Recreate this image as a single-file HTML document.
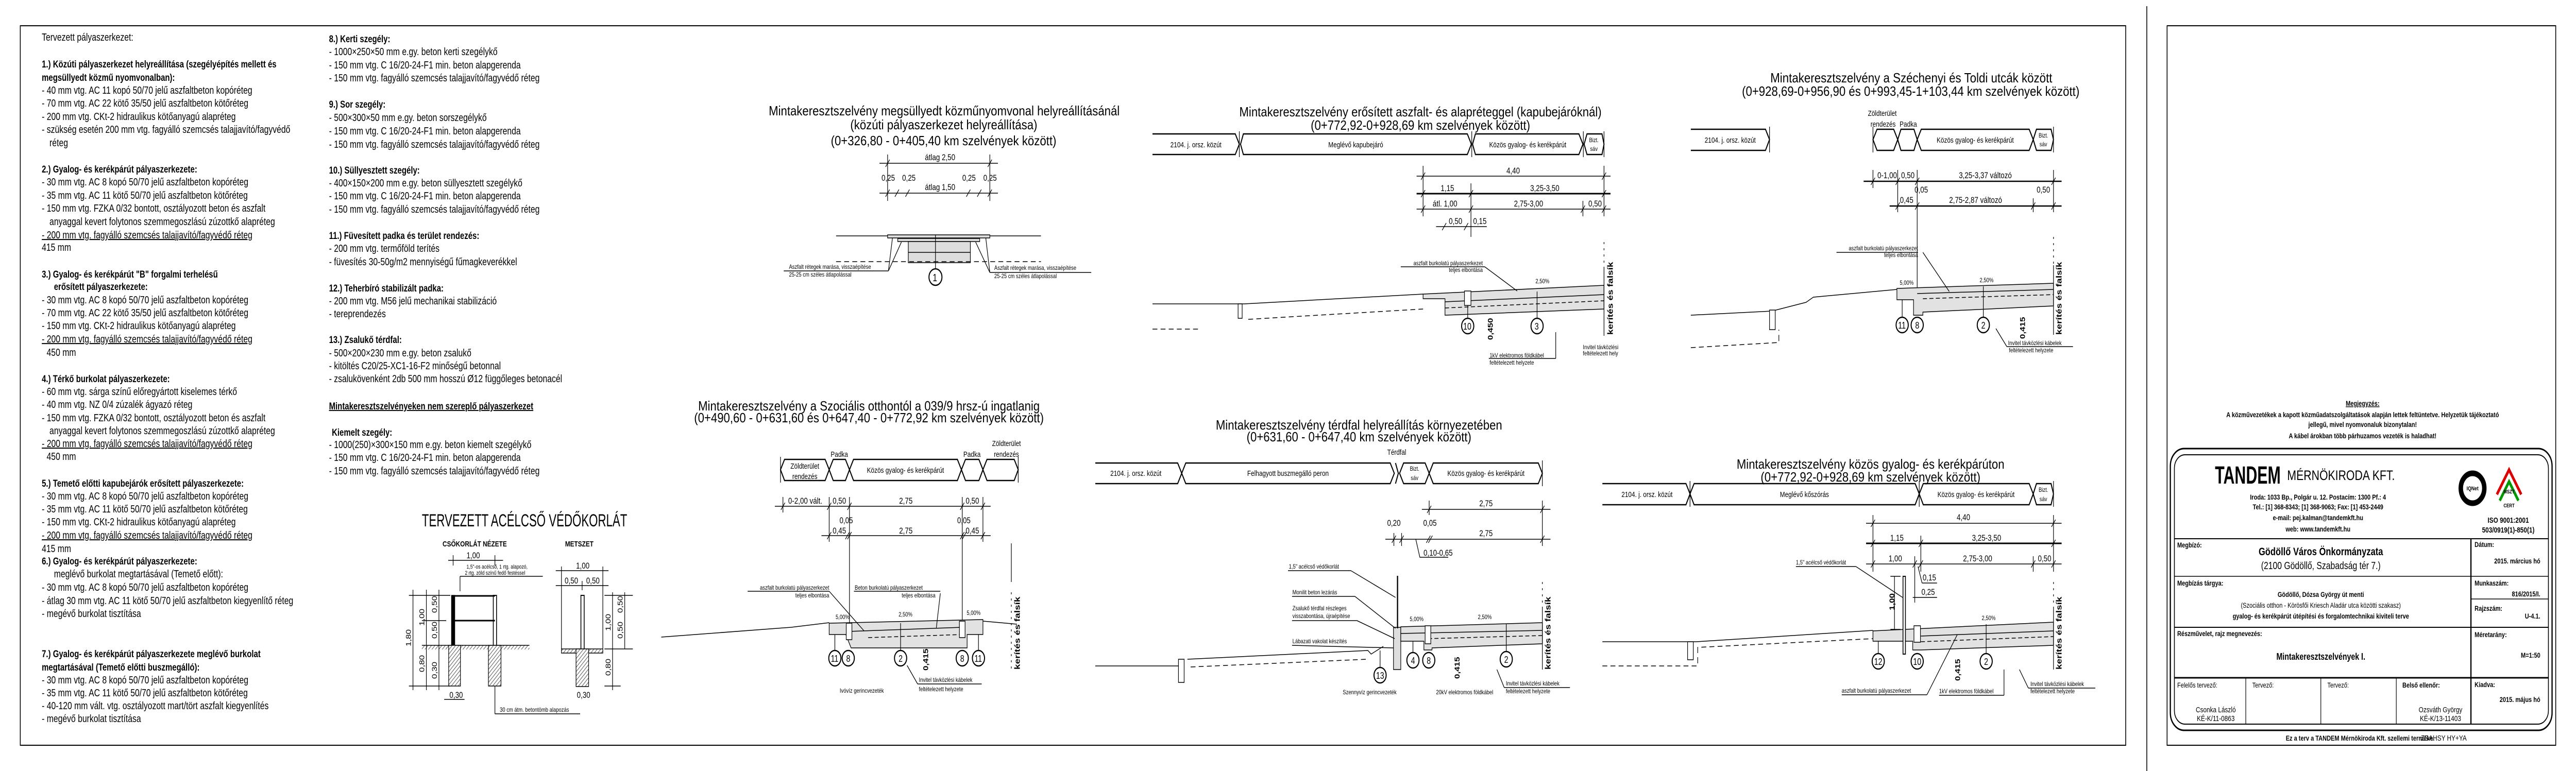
<!DOCTYPE html>
<html><head><meta charset="utf-8"><style>
html,body{margin:0;padding:0;background:#fff;width:100%;height:100%;overflow:hidden}
svg{display:block;width:100vw;height:100vh;position:absolute;left:0;top:0}
text{font-family:"Liberation Sans",Arial,sans-serif;fill:#000}
.t{font-size:20px}
.b{font-size:19px;font-weight:bold}
.ti{font-size:26px}
.bd{font-size:15px}
.dm{font-size:17px}
.nt{font-size:12px}
.cr{font-size:20px}
.kf{font-size:19px;font-weight:bold}
.tb{font-size:14px;font-weight:bold}
</style></head><body>
<svg viewBox="0 0 6350 1497" preserveAspectRatio="none" xmlns="http://www.w3.org/2000/svg">
<defs>
<pattern id="h" width="6" height="6" patternUnits="userSpaceOnUse" patternTransform="rotate(45)"><rect width="6" height="6" fill="#fff"/><line x1="0" y1="0" x2="0" y2="6" stroke="#000" stroke-width="1.5"/></pattern>
</defs>
<rect width="6350" height="1497" fill="#fff"/>
<rect x="50" y="50" width="5190" height="1397" fill="none" stroke="#000" stroke-width="2"/>
<line x1="5292" y1="12" x2="5292" y2="1497" stroke="#000" stroke-width="2"/>
<rect x="5342" y="50" width="958" height="1397" fill="none" stroke="#000" stroke-width="2"/>

<g class="t">
<text x="103" y="79">Tervezett pályaszerkezet:</text>
<text class="b" x="103" y="131">1.) Közúti pályaszerkezet helyreállítása (szegélyépítés mellett és</text>
<text class="b" x="103" y="157">megsüllyedt közmű nyomvonalban):</text>
<text x="103" y="182">-  40 mm vtg. AC 11 kopó 50/70 jelű aszfaltbeton kopóréteg</text>
<text x="103" y="207">-  70 mm vtg. AC 22 kötő 35/50 jelű aszfaltbeton kötőréteg</text>
<text x="103" y="233">- 200 mm vtg. CKt-2 hidraulikus kötőanyagú alapréteg</text>
<text x="103" y="258">- szükség esetén 200 mm vtg. fagyálló szemcsés talajjavító/fagyvédő</text>
<text x="122" y="284">réteg</text>
<text class="b" x="103" y="335">2.) Gyalog- és kerékpárút pályaszerkezete:</text>
<text x="103" y="360">-  30 mm vtg. AC 8 kopó 50/70 jelű aszfaltbeton kopóréteg</text>
<text x="103" y="386">-  35 mm vtg. AC 11 kötő 50/70 jelű aszfaltbeton kötőréteg</text>
<text x="103" y="411">- 150 mm vtg. FZKA 0/32 bontott, osztályozott beton és aszfalt</text>
<text x="122" y="437">anyaggal kevert folytonos szemmegoszlású zúzottkő alapréteg</text>
<text x="103" y="463" text-decoration="underline">- 200 mm vtg. fagyálló szemcsés talajjavító/fagyvédő réteg</text>
<text x="103" y="487">415 mm</text>
<text class="b" x="103" y="539">3.) Gyalog- és kerékpárút "B" forgalmi terhelésű</text>
<text class="b" x="133" y="563">erősített pályaszerkezete:</text>
<text x="103" y="589">-  30 mm vtg. AC 8 kopó 50/70 jelű aszfaltbeton kopóréteg</text>
<text x="103" y="614">-  70 mm vtg. AC 22 kötő 35/50 jelű aszfaltbeton kötőréteg</text>
<text x="103" y="639">-  150 mm vtg. CKt-2 hidraulikus kötőanyagú alapréteg</text>
<text x="103" y="665" text-decoration="underline">- 200 mm vtg. fagyálló szemcsés talajjavító/fagyvédő réteg</text>
<text x="115" y="691">450 mm</text>
<text class="b" x="103" y="742">4.) Térkő burkolat pályaszerkezete:</text>
<text x="103" y="767">-  60 mm vtg. sárga színű előregyártott kiselemes térkő</text>
<text x="103" y="792">-  40 mm vtg. NZ 0/4 zúzalék ágyazó réteg</text>
<text x="103" y="818">-  150 mm vtg. FZKA 0/32 bontott, osztályozott beton és aszfalt</text>
<text x="122" y="843">anyaggal kevert folytonos szemmegoszlású zúzottkő alapréteg</text>
<text x="103" y="868" text-decoration="underline">- 200 mm vtg. fagyálló szemcsés talajjavító/fagyvédő réteg</text>
<text x="115" y="893">450 mm</text>
<text class="b" x="103" y="945">5.) Temető előtti kapubejárók erősített pályaszerkezete:</text>
<text x="103" y="970">-  30 mm vtg. AC 8 kopó 50/70 jelű aszfaltbeton kopóréteg</text>
<text x="103" y="995">-  35 mm vtg. AC 11 kötő 50/70 jelű aszfaltbeton kötőréteg</text>
<text x="103" y="1020">- 150 mm vtg. CKt-2 hidraulikus kötőanyagú alapréteg</text>
<text x="103" y="1046" text-decoration="underline">- 200 mm vtg. fagyálló szemcsés talajjavító/fagyvédő réteg</text>
<text x="103" y="1072">415 mm</text>
<text class="b" x="103" y="1096">6.) Gyalog- és kerékpárút pályaszerkezete:</text>
<text x="133" y="1121">meglévő burkolat megtartásával (Temető előtt):</text>
<text x="103" y="1147">-   30 mm vtg. AC 8 kopó 50/70 jelű aszfaltbeton kopóréteg</text>
<text x="103" y="1173">-   átlag 30 mm vtg. AC 11 kötő 50/70 jelű aszfaltbeton kiegyenlítő réteg</text>
<text x="103" y="1198">-   megévő burkolat tisztítása</text>
<text class="b" x="103" y="1276">7.) Gyalog- és kerékpárút pályaszerkezete meglévő burkolat</text>
<text class="b" x="103" y="1302">megtartásával (Temető előtti buszmegálló):</text>
<text x="103" y="1327">-   30 mm vtg. AC 8 kopó 50/70 jelű aszfaltbeton kopóréteg</text>
<text x="103" y="1352">-   35 mm vtg. AC 11 kötő 50/70 jelű aszfaltbeton kötőréteg</text>
<text x="103" y="1377">-   40-120 mm vált. vtg. osztályozott mart/tört aszfalt kiegyenlítés</text>
<text x="103" y="1402">-   megévő burkolat tisztítása</text>
</g>

<g class="t">
<text class="b" x="811" y="82">8.) Kerti szegély:</text>
<text x="811" y="107">- 1000×250×50 mm e.gy. beton kerti szegélykő</text>
<text x="811" y="133">- 150 mm vtg. C 16/20-24-F1 min. beton alapgerenda</text>
<text x="811" y="158">- 150 mm vtg. fagyálló szemcsés talajjavító/fagyvédő réteg</text>
<text class="b" x="811" y="209">9.) Sor szegély:</text>
<text x="811" y="235">- 500×300×50 mm e.gy. beton sorszegélykő</text>
<text x="811" y="261">- 150 mm vtg. C 16/20-24-F1 min. beton alapgerenda</text>
<text x="811" y="287">- 150 mm vtg. fagyálló szemcsés talajjavító/fagyvédő réteg</text>
<text class="b" x="811" y="337">10.) Süllyesztett szegély:</text>
<text x="811" y="362">- 400×150×200 mm e.gy. beton süllyesztett szegélykő</text>
<text x="811" y="387">- 150 mm vtg. C 16/20-24-F1 min. beton alapgerenda</text>
<text x="811" y="413">- 150 mm vtg. fagyálló szemcsés talajjavító/fagyvédő réteg</text>
<text class="b" x="811" y="464">11.) Füvesített padka és terület rendezés:</text>
<text x="811" y="489">- 200 mm vtg. termőföld terítés</text>
<text x="811" y="515">- füvesítés 30-50g/m2 mennyiségű fűmagkeverékkel</text>
<text class="b" x="811" y="566">12.) Teherbíró stabilizált padka:</text>
<text x="811" y="591">- 200 mm vtg. M56 jelű mechanikai stabilizáció</text>
<text x="811" y="616">- tereprendezés</text>
<text class="b" x="811" y="666">13.) Zsalukő térdfal:</text>
<text x="811" y="692">- 500×200×230 mm e.gy. beton zsalukő</text>
<text x="811" y="717">- kitöltés C20/25-XC1-16-F2 minőségű betonnal</text>
<text x="811" y="742">- zsalukövenként 2db 500 mm hosszú Ø12 függőleges betonacél</text>
<text class="b" x="811" y="795" text-decoration="underline">Mintakeresztszelvényeken nem szereplő pályaszerkezet</text>
<text class="b" x="818" y="846">Kiemelt szegély:</text>
<text x="811" y="870">- 1000(250)×300×150 mm e.gy. beton kiemelt szegélykő</text>
<text x="811" y="895">- 150 mm vtg. C 16/20-24-F1 min. beton alapgerenda</text>
<text x="811" y="921">- 150 mm vtg. fagyálló szemcsés talajjavító/fagyvédő réteg</text>
</g>

<g stroke="#000" fill="none" stroke-width="1.5">
<text x="1040" y="1022" style="font-size:34px" textLength="506" lengthAdjust="spacingAndGlyphs" stroke="none">TERVEZETT ACÉLCSŐ VÉDŐKORLÁT</text>
<text x="1091" y="1061" style="font-size:15px;font-weight:bold" stroke="none">CSŐKORLÁT NÉZETE</text>
<text x="1393" y="1061" style="font-size:15px;font-weight:bold" stroke="none">METSZET</text>
<line x1="1105" y1="1088" x2="1240" y2="1088"/><line x1="1117" y1="1078" x2="1117" y2="1098"/><line x1="1220" y1="1078" x2="1220" y2="1098"/>
<text x="1150" y="1084" class="dm" stroke="none">1,00</text>
<text x="1150" y="1104" style="font-size:11px" stroke="none">1,5"-os acélcső, 1 rtg. alapozó,</text>
<text x="1146" y="1116" style="font-size:11px" stroke="none">2 rtg. zöld színű fedő festéssel</text>
<line x1="1134" y1="1119" x2="1338" y2="1119"/><line x1="1134" y1="1119" x2="1134" y2="1148"/>
<rect x="1113" y="1156" width="8" height="145" fill="#000"/>
<rect x="1216" y="1156" width="8" height="145" fill="#fff" stroke-width="2"/>
<line x1="1117" y1="1157" x2="1220" y2="1157" stroke-width="3"/>
<line x1="1117" y1="1205" x2="1220" y2="1205" stroke-width="3"/>
<rect x="1040" y="1253" width="265" height="8" fill="url(#h)" stroke="none"/>
<line x1="1040" y1="1253" x2="1305" y2="1253"/>
<rect x="1106" y="1253" width="29" height="79" fill="url(#h)"/>
<rect x="1204" y="1253" width="31" height="79" fill="url(#h)"/>
<line x1="1018" y1="1145" x2="1018" y2="1340"/><line x1="1051" y1="1145" x2="1051" y2="1340"/><line x1="1082" y1="1145" x2="1082" y2="1340"/>
<line x1="1008" y1="1156" x2="1110" y2="1156"/><line x1="1040" y1="1205" x2="1100" y2="1205"/><line x1="1008" y1="1332" x2="1110" y2="1332"/>
<text transform="translate(1013,1255) rotate(-90)" class="dm" stroke="none">1,80</text>
<text transform="translate(1046,1215) rotate(-90)" class="dm" stroke="none">1,00</text>
<text transform="translate(1077,1190) rotate(-90)" class="dm" stroke="none">0,50</text>
<text transform="translate(1077,1240) rotate(-90)" class="dm" stroke="none">0,50</text>
<text transform="translate(1046,1305) rotate(-90)" class="dm" stroke="none">0,80</text>
<text transform="translate(1077,1318) rotate(-90)" class="dm" stroke="none">0,30</text>
<line x1="1095" y1="1358" x2="1145" y2="1358"/><text x="1108" y="1355" class="dm" stroke="none">0,30</text>
<line x1="1220" y1="1332" x2="1220" y2="1386"/><line x1="1220" y1="1386" x2="1430" y2="1386"/>
<text x="1232" y="1382" style="font-size:12px" stroke="none">30 cm átm. betontömb alapozás</text>
<line x1="1384" y1="1100" x2="1384" y2="1260"/><line x1="1486" y1="1100" x2="1486" y2="1260"/>
<line x1="1370" y1="1108" x2="1500" y2="1108"/><line x1="1370" y1="1137" x2="1500" y2="1137"/><line x1="1435" y1="1128" x2="1435" y2="1146"/>
<text x="1420" y="1104" class="dm" stroke="none">1,00</text>
<text x="1392" y="1133" class="dm" stroke="none">0,50</text><text x="1445" y="1133" class="dm" stroke="none">0,50</text>
<rect x="1432" y="1156" width="8" height="145" fill="#fff" stroke-width="2"/>
<rect x="1384" y="1260" width="102" height="8" fill="url(#h)"/>
<rect x="1420" y="1260" width="31" height="73" fill="url(#h)"/>
<line x1="1510" y1="1150" x2="1510" y2="1340"/><line x1="1540" y1="1150" x2="1540" y2="1260"/>
<line x1="1490" y1="1156" x2="1560" y2="1156"/><line x1="1490" y1="1260" x2="1560" y2="1260"/><line x1="1490" y1="1332" x2="1530" y2="1332"/>
<text transform="translate(1505,1225) rotate(-90)" class="dm" stroke="none">1,00</text>
<text transform="translate(1535,1190) rotate(-90)" class="dm" stroke="none">0,50</text>
<text transform="translate(1535,1240) rotate(-90)" class="dm" stroke="none">0,50</text>
<text transform="translate(1505,1312) rotate(-90)" class="dm" stroke="none">0,80</text>
<text x="1422" y="1355" class="dm" stroke="none">0,30</text>
</g>

<g stroke="#000" fill="none" stroke-width="1.5">
<g stroke="none">
<text x="1895" y="224" class="ti" textLength="865" lengthAdjust="spacingAndGlyphs">Mintakeresztszelvény megsüllyedt közműnyomvonal helyreállításánál</text>
<text x="2096" y="251" class="ti" textLength="461" lengthAdjust="spacingAndGlyphs">(közúti pályaszerkezet helyreállítása)</text>
<text x="2048" y="282" class="ti" textLength="556" lengthAdjust="spacingAndGlyphs">(0+326,80 - 0+405,40 km szelvények között)</text>
<text x="2280" y="311" class="dm">átlag 2,50</text>
<text x="2173" y="351" class="dm">0,25</text><text x="2224" y="351" class="dm">0,25</text>
<text x="2372" y="351" class="dm">0,25</text><text x="2424" y="351" class="dm">0,25</text>
<text x="2280" y="369" class="dm">átlag 1,50</text>
</g>
<line x1="2168" y1="317" x2="2460" y2="317"/><line x1="2168" y1="375" x2="2460" y2="375"/>
<path d="M2183 324L2193 310M2435 324L2445 310M2183 382L2193 368M2206 382L2216 368M2232 382L2242 368M2382 382L2392 368M2409 382L2419 368M2435 382L2445 368"/>
<line x1="2188" y1="300" x2="2188" y2="390"/><line x1="2440" y1="300" x2="2440" y2="390"/>
<line x1="2061" y1="458" x2="2566" y2="458"/>
<rect x="2188" y="456" width="252" height="6" fill="#ddd"/>
<rect x="2213" y="463" width="202" height="6" fill="#ddd"/>
<rect x="2239" y="469" width="153" height="41" fill="#ddd"/>
<line x1="2239" y1="490" x2="2392" y2="490"/>
<line x1="2061" y1="508" x2="2566" y2="508" stroke-dasharray="12,8"/>
<line x1="2306" y1="456" x2="2306" y2="522"/>
<circle cx="2306" cy="538" r="16" fill="#fff" stroke-width="2.5"/>
<text x="2299" y="546" class="cr" stroke="none">1</text>
<text x="1945" y="522" class="nt" stroke="none">Aszfalt rétegek marása, visszaépítése</text>
<text x="1945" y="537" class="nt" stroke="none">25-25 cm széles átlapolással</text>
<line x1="1932" y1="526" x2="2190" y2="526"/><path d="M2190 526L2200 462M2190 526L2222 470"/>
<text x="2451" y="524" class="nt" stroke="none">Aszfalt rétegek marása, visszaépítése</text>
<text x="2451" y="540" class="nt" stroke="none">25-25 cm széles átlapolással</text>
<line x1="2440" y1="529" x2="2690" y2="529"/><path d="M2440 529L2430 462M2440 529L2405 470"/>
</g>

<g stroke="#000" fill="none" stroke-width="1.5">
<g stroke="none">
<text x="3055" y="226" class="ti" textLength="893" lengthAdjust="spacingAndGlyphs">Mintakeresztszelvény erősített aszfalt- és alapréteggel (kapubejáróknál)</text>
<text x="3231" y="252" class="ti" textLength="541" lengthAdjust="spacingAndGlyphs">(0+772,92-0+928,69 km szelvények között)</text>
<text x="2948" y="286" class="bd" text-anchor="middle">2104. j. orsz. közút</text>
<text x="3342" y="286" class="bd" text-anchor="middle">Meglévő kapubejáró</text>
<text x="3766" y="286" class="bd" text-anchor="middle">Közös gyalog- és kerékpárút</text>
<text x="3929" y="276" class="nt" text-anchor="middle">Bizt.</text><text x="3929" y="293" class="nt" text-anchor="middle">sáv</text>
<text x="3730" y="337" class="dm" text-anchor="middle">4,40</text>
<text x="3568" y="371" class="dm" text-anchor="middle">1,15</text><text x="3808" y="371" class="dm" text-anchor="middle">3,25-3,50</text>
<text x="3562" y="401" class="dm" text-anchor="middle">átl. 1,00</text><text x="3768" y="401" class="dm" text-anchor="middle">2,75-3,00</text><text x="3932" y="401" class="dm" text-anchor="middle">0,50</text>
<text x="3588" y="435" class="dm" text-anchor="middle">0,50</text><text x="3648" y="435" class="dm" text-anchor="middle">0,15</text>
<text x="3785" y="550" class="nt">2,50%</text>
<text x="3655" y="515" class="nt" text-anchor="end">aszfalt burkolatú pályaszerkezet</text>
<text x="3655" y="528" class="nt" text-anchor="end">teljes elbontása</text>
<text x="3672" y="694" class="nt">1kV elektromos földkábel</text><text x="3672" y="708" class="nt">feltételezett helyzete</text>
<text x="3902" y="678" class="nt">Invitel távközlési</text><text x="3902" y="690" class="nt">feltételezett hely</text>
<text transform="translate(3680,660) rotate(-90)" class="dm" style="font-weight:bold">0,450</text>
<text transform="translate(3976,650) rotate(-90)" class="kf">kerítés és falsík</text>
</g>
<path d="M2841 260H3045L3055 280L3045 300H2841M3065 260H3617L3627 280L3617 300H3065L3058 280ZM3637 260H3892L3902 280L3892 300H3637L3630 280ZM3912 260H3949L3954 280L3949 300H3912L3905 280Z" stroke-width="2.5"/>
<line x1="3055" y1="255" x2="3055" y2="305"/><line x1="3628" y1="255" x2="3628" y2="305"/><line x1="3903" y1="255" x2="3903" y2="305"/><line x1="3954" y1="255" x2="3954" y2="305"/>
<line x1="3492" y1="342" x2="3970" y2="342"/><line x1="3492" y1="376" x2="3970" y2="376" stroke-width="3"/><line x1="3492" y1="406" x2="3970" y2="406"/><line x1="3540" y1="440" x2="3665" y2="440"/>
<line x1="3508" y1="322" x2="3508" y2="420"/><line x1="3626" y1="356" x2="3626" y2="460"/><line x1="3902" y1="390" x2="3902" y2="420"/><line x1="3954" y1="322" x2="3954" y2="420"/>
<path d="M3503 349L3513 335M3949 349L3959 335M3503 383L3513 369M3621 383L3631 369M3949 383L3959 369M3503 413L3513 399M3621 413L3631 399M3897 413L3907 399M3949 413L3959 399M3555 447L3565 433M3609 447L3619 433"/>
<path d="M2841 590H3068L3508 571"/>
<rect x="3052" y="590" width="10" height="28" fill="#fff"/>
<path d="M2841 639H2960M3077 620L3508 600" stroke-dasharray="12,8"/>
<path d="M3508 571L3954 554V600L3562 612V580H3508Z" fill="#e2e2e2"/>
<line x1="3562" y1="586" x2="3954" y2="572"/><line x1="3562" y1="598" x2="3954" y2="584" stroke-dasharray="10,6"/>
<rect x="3610" y="565" width="16" height="28" fill="#fff"/>
<line x1="3618" y1="593" x2="3618" y2="618"/><line x1="3789" y1="566" x2="3789" y2="618"/>
<circle cx="3618" cy="633" r="15" fill="#fff" stroke-width="2.5"/><circle cx="3789" cy="633" r="15" fill="#fff" stroke-width="2.5"/>
<text x="3607" y="640" class="cr" stroke="none" style="font-size:18px">10</text><text x="3783" y="640" class="cr" stroke="none" style="font-size:18px">3</text>
<line x1="3453" y1="518" x2="3660" y2="518"/><line x1="3660" y1="518" x2="3740" y2="565"/>
<line x1="3670" y1="696" x2="3835" y2="696"/><line x1="3835" y1="696" x2="3835" y2="645"/>
<line x1="3954" y1="470" x2="3954" y2="520" stroke-dasharray="4,8"/><line x1="3954" y1="520" x2="3954" y2="652"/>
</g>

<g stroke="#000" fill="none" stroke-width="1.5">
<g stroke="none">
<text x="4364" y="160" class="ti" textLength="695" lengthAdjust="spacingAndGlyphs">Mintakeresztszelvény a Széchenyi és Toldi utcák között</text>
<text x="4294" y="186" class="ti" textLength="832" lengthAdjust="spacingAndGlyphs">(0+928,69-0+956,90 és 0+993,45-1+103,44 km szelvények között)</text>
<text x="4640" y="225" class="bd" text-anchor="middle">Zöldterület</text>
<text x="4642" y="246" class="bd" text-anchor="middle">rendezés</text><text x="4704" y="246" class="bd" text-anchor="middle">Padka</text>
<text x="4265" y="277" class="bd" text-anchor="middle">2104. j. orsz. közút</text>
<text x="4869" y="277" class="bd" text-anchor="middle">Közös gyalog- és kerékpárút</text>
<text x="5037" y="267" class="nt" text-anchor="middle">Bizt.</text><text x="5037" y="284" class="nt" text-anchor="middle">sáv</text>
<text x="4652" y="346" class="dm" text-anchor="middle">0-1,00</text><text x="4703" y="346" class="dm" text-anchor="middle">0,50</text><text x="4894" y="346" class="dm" text-anchor="middle">3,25-3,37 változó</text>
<text x="4736" y="374" class="dm" text-anchor="middle">0,05</text><text x="5037" y="374" class="dm" text-anchor="middle">0,50</text>
<text x="4700" y="394" class="dm" text-anchor="middle">0,45</text><text x="4870" y="394" class="dm" text-anchor="middle">2,75-2,87 változó</text>
<text x="4728" y="486" class="nt" text-anchor="end">aszfalt burkolatú pályaszerkezet</text>
<text x="4728" y="499" class="nt" text-anchor="end">teljes elbontása</text>
<text x="4683" y="553" class="nt">5,00%</text><text x="4880" y="548" class="nt">2,50%</text>
<text x="4950" y="670" class="nt">Invitel távközlési kábelek</text><text x="4952" y="684" class="nt">feltételezett helyzete</text>
<text transform="translate(4992,658) rotate(-90)" class="dm" style="font-weight:bold">0,415</text>
<text transform="translate(5082,650) rotate(-90)" class="kf">kerítés és falsík</text>
</g>
<path d="M4168 251H4352L4362 271L4352 292H4168" stroke-width="2.5"/>
<path d="M4627 251H4668L4678 271L4668 292H4627L4617 271ZM4686 251H4718L4726 271L4718 292H4686L4678 271ZM4736 251H5002L5012 271L5002 292H4736L4726 271ZM5020 251H5056L5062 271L5056 292H5020L5012 271Z" stroke-width="2.5"/>
<line x1="4362" y1="246" x2="4362" y2="296"/><line x1="4617" y1="246" x2="4617" y2="296"/><line x1="5062" y1="246" x2="5062" y2="296"/>
<line x1="4594" y1="352" x2="5082" y2="352" stroke-width="2.5"/><line x1="4658" y1="400" x2="5082" y2="400" stroke-width="2.5"/>
<line x1="4617" y1="330" x2="4617" y2="365"/><line x1="4678" y1="330" x2="4678" y2="412"/><line x1="4726" y1="330" x2="4726" y2="560"/><line x1="5012" y1="385" x2="5012" y2="412"/><line x1="5062" y1="330" x2="5062" y2="412"/>
<path d="M4612 359L4622 345M4673 359L4683 345M4721 359L4731 345M5057 359L5067 345M4673 407L4683 393M4721 407L4731 393M5007 407L5017 393M5057 407L5067 393"/>
<path d="M4168 612L4368 604L4452 587L4470 577L4676 562"/>
<rect x="4362" y="602" width="14" height="38" fill="#fff"/>
<path d="M4168 675L4385 665V640" stroke-dasharray="12,8"/>
<path d="M4676 560L5062 550V594L4740 606V612H4717V582H4676Z" fill="#e2e2e2"/>
<line x1="4726" y1="570" x2="5062" y2="562"/><line x1="4740" y1="580" x2="5062" y2="572" stroke-dasharray="10,6"/>
<line x1="4689" y1="582" x2="4689" y2="616"/><line x1="4889" y1="556" x2="4889" y2="616"/>
<circle cx="4689" cy="631" r="15" fill="#fff" stroke-width="2.5"/><circle cx="4726" cy="631" r="15" fill="#fff" stroke-width="2.5"/><circle cx="4889" cy="631" r="15" fill="#fff" stroke-width="2.5"/>
<g stroke="none" style="font-size:18px"><text x="4679" y="638">11</text><text x="4721" y="638">8</text><text x="4884" y="638">2</text></g>
<line x1="4527" y1="490" x2="4728" y2="490"/><line x1="4740" y1="490" x2="4805" y2="566"/>
<line x1="4947" y1="673" x2="5110" y2="673"/><line x1="4947" y1="673" x2="4920" y2="638"/>
<line x1="5062" y1="460" x2="5062" y2="515" stroke-dasharray="4,8"/><line x1="5062" y1="515" x2="5062" y2="650"/>
</g>

<g stroke="#000" fill="none" stroke-width="1.5">
<g stroke="none">
<text x="1721" y="797" class="ti" textLength="842" lengthAdjust="spacingAndGlyphs">Mintakeresztszelvény a Szociális otthontól a 039/9 hrsz-ú ingatlanig</text>
<text x="1711" y="820" class="ti" textLength="862" lengthAdjust="spacingAndGlyphs">(0+490,60 - 0+631,60 és 0+647,40 - 0+772,92 km szelvények között)</text>
<text x="2069" y="887" class="bd" text-anchor="middle">Padka</text><text x="2396" y="887" class="bd" text-anchor="middle">Padka</text>
<text x="2481" y="866" class="bd" text-anchor="middle">Zöldterület</text><text x="2481" y="887" class="bd" text-anchor="middle">rendezés</text>
<text x="1984" y="910" class="bd" text-anchor="middle">Zöldterület</text><text x="1984" y="930" class="bd" text-anchor="middle">rendezés</text>
<text x="2232" y="918" class="bd" text-anchor="middle">Közös gyalog- és kerékpárút</text>
<text x="1985" y="978" class="dm" text-anchor="middle">0-2,00 vált.</text><text x="2069" y="978" class="dm" text-anchor="middle">0,50</text><text x="2233" y="978" class="dm" text-anchor="middle">2,75</text><text x="2397" y="978" class="dm" text-anchor="middle">0,50</text>
<text x="2086" y="1016" class="dm" text-anchor="middle">0,05</text><text x="2376" y="1016" class="dm" text-anchor="middle">0,05</text>
<text x="2069" y="1036" class="dm" text-anchor="middle">0,45</text><text x="2233" y="1036" class="dm" text-anchor="middle">2,75</text><text x="2397" y="1036" class="dm" text-anchor="middle">0,45</text>
<text x="2044" y="1145" class="nt" text-anchor="end">aszfalt burkolatú pályaszerkezet</text><text x="2044" y="1160" class="nt" text-anchor="end">teljes elbontása</text>
<text x="2107" y="1145" class="nt">Beton burkolatú pályaszerkezet</text><text x="2306" y="1160" class="nt" text-anchor="end">teljes elbontása</text>
<text x="2060" y="1202" class="nt">5,00%</text><text x="2215" y="1197" class="nt">2,50%</text><text x="2383" y="1194" class="nt">5,00%</text>
<text x="2265" y="1324" class="nt">Invitel távközlési kábelek</text><text x="2265" y="1342" class="nt">feltételezett helyzete</text>
<text x="2070" y="1345" class="nt">Ivóvíz gerincvezeték</text>
<text transform="translate(2288,1302) rotate(-90)" class="dm" style="font-weight:bold">0,415</text>
<text transform="translate(2514,1300) rotate(-90)" class="kf">kerítés és falsík</text>
</g>
<path d="M1934 892H2034L2044 912L2034 933H1934L1924 912ZM2054 892H2084L2094 912L2084 933H2054L2044 912ZM2104 892H2360L2370 912L2360 933H2104L2094 912ZM2380 892H2413L2423 912L2413 933H2380L2370 912ZM2433 892H2500L2510 912L2500 933H2433L2423 912Z" stroke-width="2.5"/>
<line x1="1924" y1="887" x2="1924" y2="937"/><line x1="2510" y1="887" x2="2510" y2="937"/>
<line x1="1910" y1="983" x2="2442" y2="983"/><line x1="2025" y1="1040" x2="2442" y2="1040"/>
<line x1="1930" y1="965" x2="1930" y2="995"/><line x1="2044" y1="965" x2="2044" y2="1052"/><line x1="2094" y1="965" x2="2094" y2="1210"/><line x1="2372" y1="965" x2="2372" y2="1210"/><line x1="2423" y1="965" x2="2423" y2="1052"/>
<path d="M1925 990L1935 976M2039 990L2049 976M2089 990L2099 976M2367 990L2377 976M2418 990L2428 976M2039 1047L2049 1033M2084 1047L2094 1033M2089 1047L2099 1033M2367 1047L2377 1033M2372 1047L2382 1033M2418 1047L2428 1033"/>
<path d="M1630 1237L1950 1218L2044 1209"/>
<path d="M2044 1210L2423 1203V1232H2384V1258H2098L2085 1232H2044Z" fill="#e2e2e2"/>
<line x1="2094" y1="1226" x2="2372" y2="1218"/><line x1="2140" y1="1238" x2="2372" y2="1232" stroke-dasharray="10,6"/>
<rect x="2086" y="1210" width="14" height="32" fill="#fff"/><rect x="2365" y="1206" width="14" height="32" fill="#fff"/>
<path d="M2423 1206L2480 1210L2507 1212"/>
<line x1="2058" y1="1232" x2="2058" y2="1262"/><line x1="2220" y1="1210" x2="2220" y2="1262"/><line x1="2412" y1="1232" x2="2412" y2="1262"/>
<circle cx="2058" cy="1278" r="15" fill="#fff" stroke-width="2.5"/><circle cx="2091" cy="1278" r="15" fill="#fff" stroke-width="2.5"/><circle cx="2220" cy="1278" r="15" fill="#fff" stroke-width="2.5"/><circle cx="2372" cy="1278" r="15" fill="#fff" stroke-width="2.5"/><circle cx="2412" cy="1278" r="15" fill="#fff" stroke-width="2.5"/>
<g stroke="none" style="font-size:18px"><text x="2048" y="1285">11</text><text x="2086" y="1285">8</text><text x="2215" y="1285">2</text><text x="2367" y="1285">8</text><text x="2402" y="1285">11</text></g>
<line x1="1843" y1="1148" x2="2044" y2="1148"/><line x1="2044" y1="1148" x2="2130" y2="1225"/>
<line x1="2105" y1="1148" x2="2318" y2="1148"/><line x1="2318" y1="1152" x2="2308" y2="1220"/>
<line x1="2262" y1="1328" x2="2420" y2="1328"/><line x1="2262" y1="1328" x2="2236" y2="1292"/>
<line x1="2493" y1="1055" x2="2493" y2="1130"/><line x1="2493" y1="1150" x2="2493" y2="1300" stroke-dasharray="4,8"/>
</g>

<g stroke="#000" fill="none" stroke-width="1.5">
<g stroke="none">
<text x="2997" y="834" class="ti" textLength="706" lengthAdjust="spacingAndGlyphs">Mintakeresztszelvény térdfal helyreállítás környezetében</text>
<text x="3073" y="857" class="ti" textLength="554" lengthAdjust="spacingAndGlyphs">(0+631,60 - 0+647,40 km szelvények között)</text>
<text x="3443" y="883" class="bd" text-anchor="middle">Térdfal</text>
<text x="2800" y="924" class="bd" text-anchor="middle">2104. j. orsz. közút</text>
<text x="3175" y="924" class="bd" text-anchor="middle">Felhagyott buszmegálló peron</text>
<text x="3487" y="914" class="nt" text-anchor="middle">Bizt.</text><text x="3487" y="932" class="nt" text-anchor="middle">sáv</text>
<text x="3663" y="924" class="bd" text-anchor="middle">Közös gyalog- és kerékpárút</text>
<text x="3663" y="983" class="dm" text-anchor="middle">2,75</text>
<text x="3436" y="1021" class="dm" text-anchor="middle">0,20</text><text x="3525" y="1021" class="dm" text-anchor="middle">0,05</text><text x="3663" y="1041" class="dm" text-anchor="middle">2,75</text>
<text x="3545" y="1079" class="dm" text-anchor="middle">0,10-0,65</text>
<text x="3177" y="1104" class="nt">1,5" acélcső védőkorlát</text>
<text x="3186" y="1154" class="nt">Monilit beton lezárás</text>
<text x="3186" y="1185" class="nt">Zsalukő térdfal részleges</text><text x="3186" y="1200" class="nt">visszabontása, újraépítése</text>
<text x="3186" y="1249" class="nt">Lábazati vakolat készítés</text>
<text x="3310" y="1348" class="nt">Szennyvíz gerincvezeték</text>
<text x="3540" y="1348" class="nt">20kV elektromos földkábel</text>
<text x="3712" y="1331" class="nt">Invitel távközlési kábelek</text><text x="3712" y="1346" class="nt">feltételezett helyzete</text>
<text x="3475" y="1206" class="nt">5,00%</text><text x="3643" y="1202" class="nt">2,50%</text>
<text transform="translate(3598,1318) rotate(-90)" class="dm" style="font-weight:bold">0,415</text>
<text transform="translate(3822,1300) rotate(-90)" class="kf">kerítés és falsík</text>
</g>
<path d="M2700 899H2903L2913 919L2903 939H2700M2923 899H3427L3437 919L3427 939H2923L2913 919ZM3440 899L3447 919L3440 939M3460 899H3513L3523 919L3513 939H3460L3450 919ZM3533 899H3792L3802 919L3792 939H3533L3523 919Z" stroke-width="2.5"/>
<line x1="3802" y1="894" x2="3802" y2="944"/>
<line x1="3505" y1="989" x2="3822" y2="989"/><line x1="3415" y1="1047" x2="3822" y2="1047"/>
<line x1="3523" y1="972" x2="3523" y2="1000"/><line x1="3802" y1="972" x2="3802" y2="1060"/><line x1="3436" y1="1035" x2="3436" y2="1060"/><line x1="3455" y1="1035" x2="3455" y2="1060"/>
<path d="M3518 996L3528 982M3797 996L3807 982M3431 1054L3441 1040M3450 1054L3460 1040M3516 1054L3526 1040M3521 1054L3531 1040M3797 1054L3807 1040M3490 1047L3500 1082H3570"/>
<path d="M2700 1293H2909"/><rect x="2905" y="1280" width="14" height="45" fill="#fff"/>
<path d="M2927 1280L3372 1263L3380 1270L3410 1255"/>
<path d="M2935 1295L3370 1280" stroke-dasharray="12,8"/>
<rect x="3435" y="1218" width="18" height="82" fill="#ddd"/>
<line x1="3445" y1="1118" x2="3445" y2="1220" stroke-width="3"/>
<path d="M3453 1217L3802 1209V1250L3530 1258V1262H3510V1245H3453Z" fill="#e2e2e2"/>
<line x1="3453" y1="1230" x2="3802" y2="1224"/><line x1="3520" y1="1240" x2="3802" y2="1234" stroke-dasharray="10,6"/>
<rect x="3513" y="1215" width="14" height="35" fill="#fff"/>
<line x1="3402" y1="1263" x2="3402" y2="1295"/><line x1="3483" y1="1245" x2="3483" y2="1266"/><line x1="3713" y1="1212" x2="3713" y2="1264"/>
<circle cx="3402" cy="1311" r="15" fill="#fff" stroke-width="2.5"/><circle cx="3483" cy="1282" r="15" fill="#fff" stroke-width="2.5"/><circle cx="3522" cy="1282" r="15" fill="#fff" stroke-width="2.5"/><circle cx="3713" cy="1280" r="15" fill="#fff" stroke-width="2.5"/>
<g stroke="none" style="font-size:18px"><text x="3392" y="1318">13</text><text x="3478" y="1289">4</text><text x="3517" y="1289">8</text><text x="3708" y="1287">2</text></g>
<line x1="3175" y1="1108" x2="3330" y2="1108"/><line x1="3330" y1="1108" x2="3440" y2="1160"/>
<line x1="3185" y1="1158" x2="3340" y2="1158"/><line x1="3340" y1="1158" x2="3440" y2="1220"/>
<line x1="3185" y1="1205" x2="3345" y2="1205"/><line x1="3345" y1="1205" x2="3438" y2="1240"/>
<line x1="3185" y1="1253" x2="3435" y2="1258"/>
<line x1="3708" y1="1335" x2="3870" y2="1335"/><line x1="3708" y1="1335" x2="3690" y2="1300"/>
<line x1="3802" y1="1130" x2="3802" y2="1180" stroke-dasharray="4,8"/><line x1="3802" y1="1180" x2="3802" y2="1300"/>
</g>

<g stroke="#000" fill="none" stroke-width="1.5">
<g stroke="none">
<text x="4281" y="910" class="ti" textLength="660" lengthAdjust="spacingAndGlyphs">Mintakeresztszelvény közös gyalog- és kerékpárúton</text>
<text x="4340" y="935" class="ti" textLength="542" lengthAdjust="spacingAndGlyphs">(0+772,92-0+928,69 km szelvények között)</text>
<text x="4060" y="965" class="bd" text-anchor="middle">2104. j. orsz. közút</text>
<text x="4448" y="965" class="bd" text-anchor="middle">Meglévő kőszórás</text>
<text x="4871" y="965" class="bd" text-anchor="middle">Közös gyalog- és kerékpárút</text>
<text x="5037" y="955" class="nt" text-anchor="middle">Bizt.</text><text x="5037" y="973" class="nt" text-anchor="middle">sáv</text>
<text x="4840" y="1010" class="dm" text-anchor="middle">4,40</text>
<text x="4676" y="1050" class="dm" text-anchor="middle">1,15</text><text x="4897" y="1050" class="dm" text-anchor="middle">3,25-3,50</text>
<text x="4672" y="1090" class="dm" text-anchor="middle">1,00</text><text x="4875" y="1090" class="dm" text-anchor="middle">2,75-3,00</text><text x="5040" y="1090" class="dm" text-anchor="middle">0,50</text>
<text x="4756" y="1127" class="dm" text-anchor="middle">0,15</text><text x="4753" y="1155" class="dm" text-anchor="middle">0,25</text>
<text x="4427" y="1096" class="nt">1,5" acélcső védőkorlát</text>
<text x="4540" y="1345" class="nt">aszfalt burkolatú pályaszerkezet</text>
<text x="4780" y="1346" class="nt">1kV elektromos földkábel</text>
<text x="5005" y="1332" class="nt">Invitel távközlési kábelek</text><text x="5005" y="1346" class="nt">feltételezett helyzete</text>
<text x="4885" y="1204" class="nt">2,50%</text>
<text transform="translate(4670,1185) rotate(-90)" class="dm" style="font-weight:bold">1,00</text>
<text transform="translate(4832,1322) rotate(-90)" class="dm" style="font-weight:bold">0,415</text>
<text transform="translate(5082,1300) rotate(-90)" class="kf">kerítés és falsík</text>
</g>
<path d="M3950 939H4156L4166 959L4156 980H3950M4176 939H4721L4731 959L4721 980H4176L4166 959ZM4741 939H5002L5012 959L5002 980H4741L4731 959ZM5020 939H5056L5062 959L5056 980H5020L5012 959Z" stroke-width="2.5"/>
<line x1="4166" y1="934" x2="4166" y2="984"/><line x1="4731" y1="934" x2="4731" y2="984"/><line x1="5062" y1="934" x2="5062" y2="984"/>
<line x1="4600" y1="1016" x2="5082" y2="1016"/><line x1="4600" y1="1055" x2="5082" y2="1055" stroke-width="3"/><line x1="4600" y1="1095" x2="5082" y2="1095"/>
<line x1="4617" y1="1000" x2="4617" y2="1110"/><line x1="4735" y1="1040" x2="4735" y2="1110"/><line x1="4720" y1="1080" x2="4720" y2="1170"/><line x1="5012" y1="1080" x2="5012" y2="1110"/><line x1="5062" y1="1000" x2="5062" y2="1110"/>
<path d="M4612 1023L4622 1009M5057 1023L5067 1009M4612 1062L4622 1048M4730 1062L4740 1048M5057 1062L5067 1048M4612 1102L4622 1088M4715 1102L4725 1088M4730 1102L4740 1088M5007 1102L5017 1088M5057 1102L5067 1088"/>
<line x1="4728" y1="1100" x2="4738" y2="1132"/><line x1="4738" y1="1132" x2="4775" y2="1132"/>
<line x1="4715" y1="1160" x2="4775" y2="1160"/>
<path d="M3950 1246H4182L4617 1224"/><rect x="4160" y="1246" width="14" height="35" fill="#fff"/>
<path d="M3950 1293H4185V1257L4617 1240" stroke-dasharray="12,8"/>
<path d="M4617 1225L5062 1208V1253L4735 1262H4715V1245H4617Z" fill="#e2e2e2"/>
<line x1="4735" y1="1235" x2="5062" y2="1225"/><line x1="4735" y1="1246" x2="5062" y2="1236" stroke-dasharray="10,6"/>
<rect x="4718" y="1215" width="16" height="32" fill="#fff"/>
<rect x="4691" y="1119" width="6" height="151" fill="#fff" stroke-width="2"/>
<line x1="4670" y1="1119" x2="4670" y2="1222"/><line x1="4660" y1="1119" x2="4685" y2="1119"/><line x1="4660" y1="1222" x2="4685" y2="1222"/>
<line x1="4630" y1="1245" x2="4630" y2="1268"/><line x1="4896" y1="1212" x2="4896" y2="1268"/>
<circle cx="4630" cy="1284" r="15" fill="#fff" stroke-width="2.5"/><circle cx="4726" cy="1284" r="15" fill="#fff" stroke-width="2.5"/><circle cx="4896" cy="1284" r="15" fill="#fff" stroke-width="2.5"/>
<g stroke="none" style="font-size:18px"><text x="4620" y="1291">12</text><text x="4716" y="1291">10</text><text x="4891" y="1291">2</text></g>
<line x1="4427" y1="1100" x2="4575" y2="1100"/><line x1="4575" y1="1100" x2="4690" y2="1160"/>
<line x1="4540" y1="1349" x2="4750" y2="1349"/><line x1="4750" y1="1349" x2="4825" y2="1232"/>
<line x1="4780" y1="1350" x2="4940" y2="1350"/><line x1="4940" y1="1350" x2="4940" y2="1300"/>
<line x1="5000" y1="1336" x2="5165" y2="1336"/><line x1="5000" y1="1336" x2="4978" y2="1300"/>
<line x1="5062" y1="1130" x2="5062" y2="1180" stroke-dasharray="4,8"/><line x1="5062" y1="1180" x2="5062" y2="1300"/>
</g>

<g stroke="#000" fill="none">
<g stroke="none" class="tb">
<text x="5824" y="788" text-anchor="middle" text-decoration="underline">Megjegyzés:</text>
<text x="5824" y="810" text-anchor="middle">A közművezetékek a kapott közműadatszolgáltatások alapján lettek feltüntetve. Helyzetük tájékoztató</text>
<text x="5824" y="829" text-anchor="middle">jellegű, mivel nyomvonaluk bizonytalan!</text>
<text x="5824" y="851" text-anchor="middle">A kábel árokban több párhuzamos vezeték is haladhat!</text>
</g>
<rect x="5350" y="871" width="941" height="547" rx="34" stroke-width="3"/>
<rect x="5360" y="883" width="922" height="523" rx="26" stroke-width="2"/>
<text x="5460" y="939" stroke="none" style="font-size:48px;font-weight:bold" textLength="162" lengthAdjust="spacingAndGlyphs">TANDEM</text>
<text x="5638" y="932" stroke="none" style="font-size:27px">MÉRNÖKIRODA KFT.</text>
<g stroke="none" class="tb" text-anchor="middle">
<text x="5714" y="970">Iroda: 1033 Bp., Polgár u. 12.  Postacím: 1300 Pf.: 4</text>
<text x="5714" y="989">Tel.: [1] 368-8343; [1] 368-9063; Fax: [1] 453-2449</text>
<text x="5714" y="1010">e-mail: pej.kalman@tandemkft.hu</text>
<text x="5714" y="1032">web: www.tandemkft.hu</text>
<text x="6183" y="1015" style="font-size:15px">ISO 9001:2001</text>
<text x="6183" y="1034" style="font-size:15px">503/0919(1)-850(1)</text>
</g>
<circle cx="6095" cy="948" r="34" fill="#000"/><circle cx="6095" cy="948" r="24" fill="#fff"/>
<text x="6095" y="952" stroke="none" text-anchor="middle" style="font-size:11px;font-weight:bold">IQNet</text>
<path d="M6155 960L6185 912L6215 960" stroke="#d00" stroke-width="6"/><path d="M6162 972L6185 935L6208 972" stroke="#090" stroke-width="6"/>
<text x="6185" y="958" stroke="none" text-anchor="middle" style="font-size:10px;font-weight:bold">MSZT</text>
<text x="6185" y="985" stroke="none" text-anchor="middle" style="font-size:10px;font-weight:bold">CERT</text>
<line x1="5360" y1="1046" x2="6282" y2="1046" stroke-width="2"/>
<line x1="5360" y1="1119" x2="6282" y2="1119" stroke-width="1.5"/>
<line x1="5360" y1="1218" x2="6282" y2="1218" stroke-width="2"/>
<line x1="5360" y1="1316" x2="6282" y2="1316" stroke-width="3"/>
<line x1="6091" y1="1163" x2="6282" y2="1163" stroke-width="1.5"/>
<line x1="6091" y1="1046" x2="6091" y2="1406" stroke-width="3"/>
<line x1="5536" y1="1316" x2="5536" y2="1406" stroke-width="1.5"/><line x1="5721" y1="1316" x2="5721" y2="1406" stroke-width="1.5"/><line x1="5907" y1="1316" x2="5907" y2="1406" stroke-width="1.5"/>
<g stroke="none" class="tb">
<text x="5367" y="1063">Megbízó:</text>
<text x="5721" y="1078" text-anchor="middle" style="font-size:21px">Gödöllő Város Önkormányzata</text>
<text x="5721" y="1105" text-anchor="middle" style="font-size:20px;font-weight:normal">(2100  Gödöllő, Szabadság tér 7.)</text>
<text x="6100" y="1062">Dátum:</text>
<text x="6262" y="1094" text-anchor="end">2015. március hó</text>
<text x="5367" y="1137">Megbízás tárgya:</text>
<text x="5721" y="1159" text-anchor="middle">Gödöllő, Dózsa György út menti</text>
<text x="5721" y="1180" text-anchor="middle" style="font-weight:normal">(Szociális otthon - Körösfői Kriesch Aladár utca közötti szakasz)</text>
<text x="5721" y="1201" text-anchor="middle">gyalog- és kerékpárút útépítési és forgalomtechnikai kiviteli terve</text>
<text x="6100" y="1137">Munkaszám:</text>
<text x="6262" y="1158" text-anchor="end">816/2015/I.</text>
<text x="6100" y="1186">Rajzszám:</text>
<text x="6262" y="1201" text-anchor="end">U-4.1.</text>
<text x="5367" y="1235">Részművelet, rajz megnevezés:</text>
<text x="5721" y="1281" text-anchor="middle" style="font-size:18px">Mintakeresztszelvények I.</text>
<text x="6100" y="1237">Méretarány:</text>
<text x="6262" y="1277" text-anchor="end">M=1:50</text>
<text x="5367" y="1335" style="font-weight:normal">Felelős tervező:</text>
<text x="5552" y="1335" style="font-weight:normal">Tervező:</text>
<text x="5737" y="1335" style="font-weight:normal">Tervező:</text>
<text x="5922" y="1335">Belső ellenőr:</text>
<text x="6100" y="1334">Kiadva:</text>
<text x="6262" y="1363" text-anchor="end">2015. május hó</text>
<text x="5462" y="1383" text-anchor="middle" style="font-weight:normal;font-size:15px">Csonka László</text>
<text x="5462" y="1400" text-anchor="middle" style="font-weight:normal;font-size:15px">KÉ-K/11-0863</text>
<text x="6016" y="1383" text-anchor="middle" style="font-weight:normal;font-size:15px">Ozsváth György</text>
<text x="6016" y="1400" text-anchor="middle" style="font-weight:normal;font-size:15px">KÉ-K/13-11403</text>
<text x="5818" y="1438" text-anchor="middle">Ez a terv a TANDEM Mérnökiroda Kft. szellemi terméke.</text>
<text x="5968" y="1438" style="font-weight:normal;font-size:15px">ZSAHSY HY+YA</text>
</g>
</g>
</svg>
</body></html>
